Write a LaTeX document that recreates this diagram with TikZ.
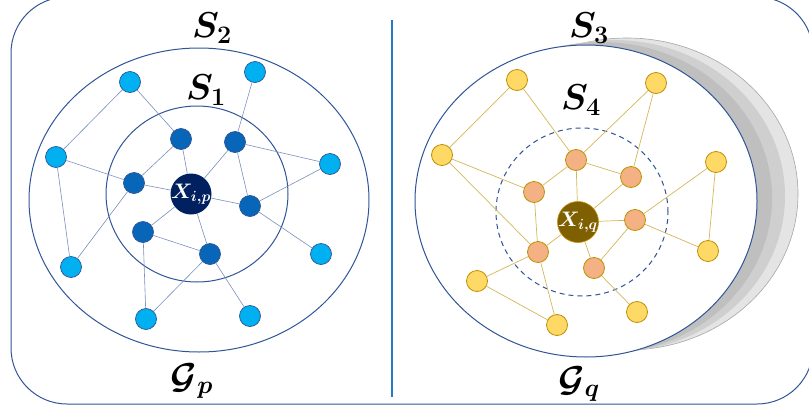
\RequirePackage{fix-cm}
\documentclass[tikz,border=0pt]{standalone}
\usepackage{bm}
\definecolor{framecol}{RGB}{47,85,151}
\definecolor{divcol}{RGB}{40,120,200}
\definecolor{lblue}{RGB}{0,176,240}
\definecolor{dblue}{RGB}{8,102,184}
\definecolor{navy}{RGB}{0,32,96}
\definecolor{yel}{RGB}{255,217,102}
\definecolor{orng}{RGB}{244,177,131}
\definecolor{gold}{RGB}{191,144,0}
\definecolor{brown}{RGB}{127,96,0}
\definecolor{sh1}{RGB}{191,191,191}
\definecolor{sh2}{RGB}{207,207,207}
\definecolor{sh3}{RGB}{228,228,228}
\tikzset{
  lnode/.style={circle,fill=lblue,draw=framecol,line width=0.7pt,minimum size=21pt,inner sep=0pt},
  dnode/.style={circle,fill=dblue,draw=framecol,line width=0.7pt,minimum size=21pt,inner sep=0pt},
  ctext/.style={text=white,font=\fontsize{21}{21}\selectfont,inner sep=0pt},
  pcenter/.style={circle,fill=navy,minimum size=41pt,inner sep=0pt},
  ynode/.style={circle,fill=yel,draw=gold,line width=0.8pt,minimum size=21pt,inner sep=0pt},
  onode/.style={circle,fill=orng,draw=gold,line width=0.8pt,minimum size=21pt,inner sep=0pt},
  qcenter/.style={circle,fill=brown,draw=gold,line width=0.6pt,minimum size=41pt,inner sep=0pt},
  ledge/.style={draw=framecol!65,line width=0.6pt},
  redge/.style={draw=gold!65,line width=0.7pt},
  ring/.style={draw=framecol,line width=1pt},
  lbl/.style={font=\fontsize{36}{36}\selectfont,inner sep=0pt},
}
\begin{document}
\begin{tikzpicture}[x=1pt,y=-1pt]
\useasboundingbox (0,0) rectangle (809,410);
\begin{scope}
\clip (0,0) rectangle (809,410);
% outer frame
\draw[framecol,line width=1pt,rounded corners=56pt] (11,-3) rectangle (813,404);
\end{scope}
% divider
\draw[divcol,line width=2.2pt] (392,20) coordinate (dtop) -- (392,397) coordinate (dbot);

% ---------- left graph ----------
\draw[ring] (199,200) ellipse [x radius=170pt, y radius=152pt];
\draw[ring] (197,194) ellipse [x radius=91pt, y radius=88pt];

\node[lbl] (s2) at (212,28) {$\bm{S}_{\bm{2}}$};
\node[lbl] (s1) at (206,90) {$\bm{S}_{\bm{1}}$};
\node[lbl] (gp) at (192,381) {$\bm{\mathcal{G}}_{\bm{p}}$};

\node[pcenter] (xp) at (191,194) {};
\node[dnode] (d1) at (181,139) {};
\node[dnode] (d2) at (235,142) {};
\node[dnode] (d3) at (134,183) {};
\node[dnode] (d4) at (250,206) {};
\node[dnode] (d5) at (143,232) {};
\node[dnode] (d6) at (210,254) {};
\node[lnode] (l1) at (130,82) {};
\node[lnode] (l2) at (255,72) {};
\node[lnode] (l3) at (56,157) {};
\node[lnode] (l4) at (330,164) {};
\node[lnode] (l5) at (71,267) {};
\node[lnode] (l6) at (321,254) {};
\node[lnode] (l7) at (146,319) {};
\node[lnode] (l8) at (250,316) {};

\path[ledge] (l1) -- (d1) (l2) -- (d2) (l3) -- (l1) (l3) -- (d3) (l3) -- (l5)
  (l5) -- (d3) (d1) -- (d3) (d1) -- (xp) (d3) -- (xp) (d2) -- (xp) (d2) -- (l4)
  (d2) -- (d4) (xp) -- (d4) (d4) -- (l4) (xp) -- (d5) (xp) -- (d6) (d5) -- (d6)
  (d5) -- (l7) (d6) -- (l7) (d6) -- (l8) (d4) -- (l6);
\node[ctext] (xpt) at (191,194) {$\bm{X}_{\bm{i,p}}$};

% ---------- right graph ----------
\fill[sh3,draw=black!35,line width=0.6pt] (627,194) ellipse [x radius=171pt, y radius=156pt];
\fill[sh2] (614,196) ellipse [x radius=171pt, y radius=156pt];
\fill[sh1] (601,198) ellipse [x radius=171pt, y radius=156pt];
\draw[ring,fill=white] (586,201) ellipse [x radius=171pt, y radius=156pt];
\draw[framecol,line width=1pt,dash pattern=on 5pt off 4pt] (582,212) ellipse [x radius=86pt, y radius=84pt];

\node[lbl] (s3) at (589,28) {$\bm{S}_{\bm{3}}$};
\node[lbl] (s4) at (581,100) {$\bm{S}_{\bm{4}}$};
\node[lbl] (gq) at (579,384) {$\bm{\mathcal{G}}_{\bm{q}}$};

\node[qcenter] (xq) at (578,222) {};
\node[onode] (o1) at (576,160) {};
\node[onode] (o2) at (631,177) {};
\node[onode] (o3) at (534,192) {};
\node[onode] (o4) at (635,220) {};
\node[onode] (o5) at (538,252) {};
\node[onode] (o6) at (594,268) {};
\node[ynode] (y1) at (517,80) {};
\node[ynode] (y2) at (656,83) {};
\node[ynode] (y3) at (442,155) {};
\node[ynode] (y4) at (716,162) {};
\node[ynode] (y5) at (477,281) {};
\node[ynode] (y6) at (708,251) {};
\node[ynode] (y7) at (557,325) {};
\node[ynode] (y8) at (637,312) {};

\path[redge] (y1) -- (y3) (y1) -- (o1) (y2) -- (o1) (y2) -- (o2) (y3) -- (o3)
  (y3) -- (o5) (o3) -- (o5) (o3) -- (o1) (o1) -- (xq) (o1) -- (o2) (y4) -- (y6)
  (y4) -- (o4) (o2) -- (xq) (xq) -- (o4) (xq) -- (o5) (xq) -- (o6) (o4) -- (o6)
  (o4) -- (y6) (o5) -- (y5) (o5) -- (y7) (y5) -- (y7) (o6) -- (y8);
\node[ctext] (xqt) at (578,222) {$\bm{X}_{\bm{i,q}}$};
\end{tikzpicture}
\end{document}
